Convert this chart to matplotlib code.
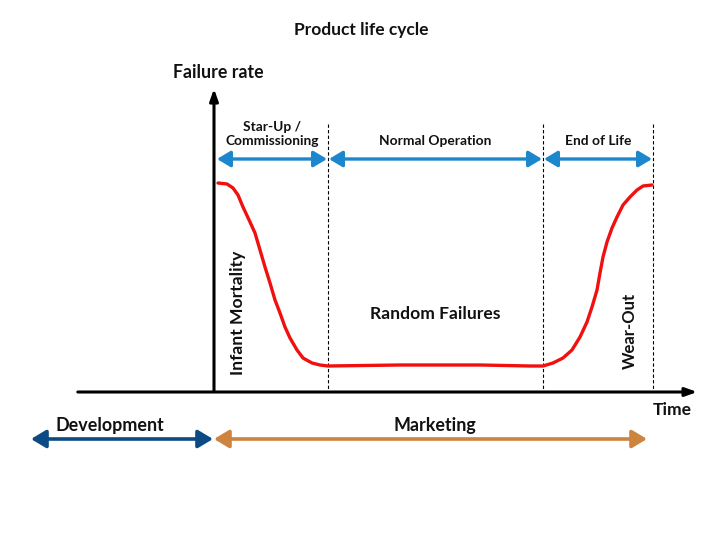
import numpy as np
import matplotlib.pyplot as plt
from matplotlib.patches import FancyArrowPatch

plt.rcParams['font.family'] = ['Lato', 'DejaVu Sans']

# bathtub curve (pixel-like coordinates, y grows downward)
curve_x = [218, 227, 233, 238, 243, 250, 255, 260, 265, 270, 275, 280, 285, 290,
           297, 303, 312, 320, 328, 400, 480, 530, 543, 553, 563, 572, 580, 587,
           592, 597, 600, 603, 607, 612, 617, 623, 630, 637, 643, 652]
curve_y = [183, 184, 188, 195, 207, 222, 233, 250, 267, 283, 300, 313, 327, 338,
           350, 358, 363, 365, 366, 365, 365, 366, 366, 363, 358, 350, 337, 322,
           307, 290, 273, 257, 242, 228, 217, 205, 197, 190, 186, 185]

phase_bounds = [216, 328, 543, 653]
phase_labels = ["Star-Up /\nCommissioning", "Normal Operation", "End of Life"]
phase_label_y = [134, 141, 141]

stage_labels = ["Development", "Marketing"]
stage_span = [(31, 213), (214, 647)]
stage_colors = ["#0b4a82", "#cd843f"]

fig = plt.figure(figsize=(7.25, 5.47), dpi=100)
ax = fig.add_axes([0, 0, 1, 1])
ax.set_xlim(0, 725)
ax.set_ylim(547, 0)
ax.axis("off")

bold = dict(fontweight="bold", color="#111111")

ax.text(361, 30, "Product life cycle", ha="center", va="center", fontsize=12.5, **bold)
ax.text(218, 73, "Failure rate", ha="center", va="center", fontsize=12.8, **bold)
ax.text(672, 410, "Time", ha="center", va="center", fontsize=12.6, **bold)

# axes arrows
ax.annotate("", xy=(214, 86), xytext=(214, 394),
            arrowprops=dict(arrowstyle="-|>,head_length=0.7,head_width=0.25", lw=2.2, color="black"))
ax.annotate("", xy=(700, 392), xytext=(75, 392),
            arrowprops=dict(arrowstyle="-|>,head_length=0.7,head_width=0.25", lw=2.2, color="black"))

# dashed phase separators
for x in phase_bounds[1:]:
    ax.plot([x, x], [124, 391], color="black", lw=0.8, ls=(0, (3, 2)))

# phase arrows
for i, lab in enumerate(phase_labels):
    x0, x1 = phase_bounds[i] + 1, phase_bounds[i + 1] - 1
    ax.add_patch(FancyArrowPatch((x0, 159), (x1, 159), arrowstyle="<|-|>,head_length=5,head_width=3",
                                 color="#1c87cc", lw=2.4, mutation_scale=1.6, shrinkA=0, shrinkB=0))
    ax.text((phase_bounds[i] + phase_bounds[i + 1]) / 2, phase_label_y[i], lab, ha="center",
            va="center", fontsize=9.9, linespacing=1.25, **bold)

ax.plot(curve_x, curve_y, color="#f01010", lw=2.4, solid_capstyle="round", solid_joinstyle="round")

ax.text(238.5, 313, "Infant Mortality", rotation=90, ha="center", va="center", fontsize=12.6, **bold)
ax.text(435, 314, "Random Failures", ha="center", va="center", fontsize=12.6, **bold)
ax.text(630, 331, "Wear-Out", rotation=90, ha="center", va="center", fontsize=12, **bold)

# development / marketing arrows
for lab, (x0, x1), col in zip(stage_labels, stage_span, stage_colors):
    ax.add_patch(FancyArrowPatch((x0, 439), (x1, 439), arrowstyle="<|-|>,head_length=5,head_width=3",
                                 color=col, lw=2.6, mutation_scale=1.8, shrinkA=0, shrinkB=0))
ax.text(110, 425, stage_labels[0], ha="center", va="center", fontsize=12.9, **bold)
ax.text(435, 425, stage_labels[1], ha="center", va="center", fontsize=12.9, **bold)

fig.savefig("out.png", dpi=100, facecolor="white")
